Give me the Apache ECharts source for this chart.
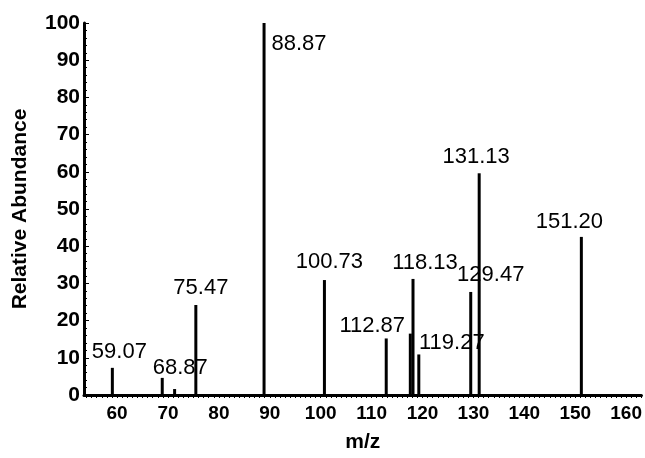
<!DOCTYPE html>
<html>
<head>
<meta charset="utf-8">
<script src="https://cdn.jsdelivr.net/npm/echarts@6/dist/echarts.min.js"></script>
<style>html,body{margin:0;padding:0;background:#fff}#c{width:645px;height:458px}</style>
</head>
<body>
<div id="c"></div>
<script>
// m/z of each peak
const mz = [59.07, 68.87, 71.3, 75.47, 88.87, 100.73, 112.87, 117.6, 118.13, 119.27, 129.47, 131.13, 151.20];
// relative abundance (%)
const intensity = [7.3, 4.6, 1.6, 24.2, 100, 30.9, 15.2, 16.5, 31.2, 10.9, 27.7, 59.6, 42.5];
// peak annotation text ('' = unlabeled)
const peakLabels = ['59.07', '68.87', '', '75.47', '88.87', '100.73', '112.87', '', '118.13', '119.27', '129.47', '131.13', '151.20'];
// axis tick labels
const xTickLabels = [60, 70, 80, 90, 100, 110, 120, 130, 140, 150, 160];
const yTickLabels = [0, 10, 20, 30, 40, 50, 60, 70, 80, 90, 100];

const labelOffset = {
  '59.07': [7, 0], '68.87': [18, 6], '75.47': [5, -1], '88.87': [35, 37],
  '100.73': [5, -2], '112.87': [-14, 3], '118.13': [12, 0], '119.27': [33, 4],
  '129.47': [20, -1], '131.13': [-3, 0], '151.20': [-12, 1]
};

const xMinorTicks = [];
for (let v = 54; v <= 163; v++) xMinorTicks.push(v);

const data = mz.map((m, i) => {
  const lbl = peakLabels[i];
  const d = { value: [m, intensity[i]] };
  if (lbl) {
    d.label = { show: true, formatter: lbl, offset: labelOffset[lbl] || [0, 0] };
  }
  return d;
});

const chart = echarts.init(document.getElementById('c'), null, { renderer: 'canvas' });
chart.setOption({
  animation: false,
  backgroundColor: '#fff',
  textStyle: { fontFamily: 'Liberation Sans, Arial, sans-serif' },
  grid: { left: 84, right: 0, top: 23, bottom: 59, containLabel: false },
  xAxis: {
    type: 'value', min: 53.5, max: 163,
    name: 'm/z', nameLocation: 'middle', nameGap: 37,
    nameTextStyle: { fontSize: 21, fontWeight: 'bold', color: '#000', fontFamily: 'Liberation Sans' },
    axisLine: { show: true, lineStyle: { color: '#000', width: 3 } },
    axisTick: { show: true, customValues: xMinorTicks, length: 3, lineStyle: { color: '#000', width: 1 } },
    axisLabel: { customValues: xTickLabels, margin: 9, fontSize: 19, fontWeight: 'bold', color: '#000', fontFamily: 'Liberation Sans' },
    splitLine: { show: false }
  },
  yAxis: {
    type: 'value', min: 0, max: 100, interval: 10,
    name: 'Relative Abundance', nameLocation: 'middle', nameGap: 53, nameRotate: 90,
    nameTextStyle: { fontSize: 21, fontWeight: 'bold', color: '#000', fontFamily: 'Liberation Sans' },
    axisLine: { show: true, lineStyle: { color: '#000', width: 3 } },
    axisTick: { show: true, inside: true, length: 5, lineStyle: { color: '#000', width: 1 } },
    minorTick: { show: true, splitNumber: 5, length: 3, lineStyle: { color: '#000', width: 1 } },
    axisLabel: { margin: 4, fontSize: 21, fontWeight: 'bold', color: '#000', fontFamily: 'Liberation Sans',
      formatter: v => (yTickLabels.indexOf(v) >= 0 ? String(v) : '') },
    splitLine: { show: false }
  },
  series: [{
    type: 'bar',
    barWidth: 3,
    itemStyle: { color: '#000' },
    label: { show: false, position: 'top', distance: 5, fontSize: 22, color: '#000', fontFamily: 'Liberation Sans' },
    data: data
  }]
});
</script>
</body>
</html>
